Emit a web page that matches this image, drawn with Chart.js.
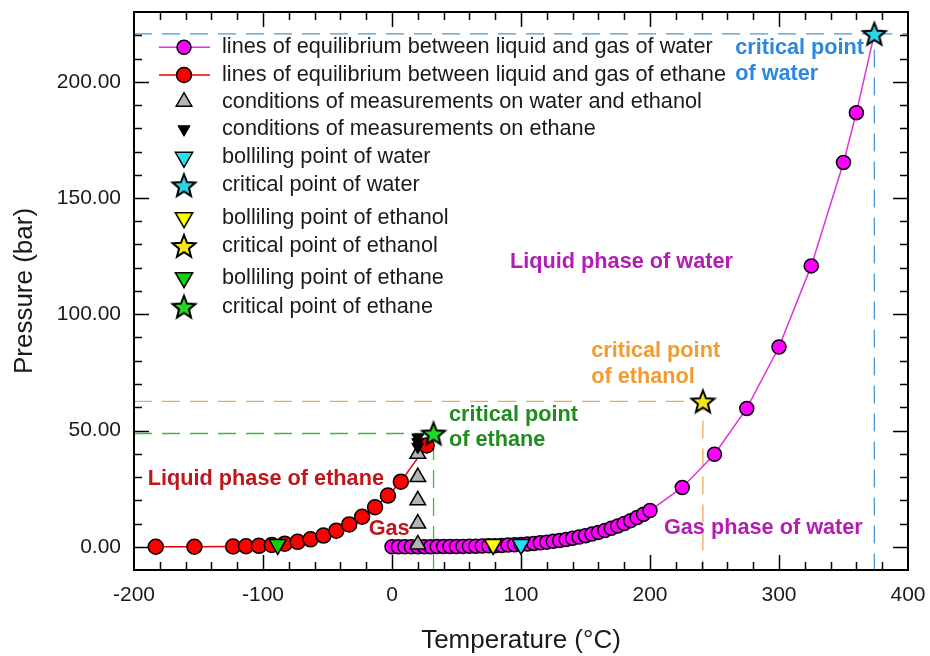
<!DOCTYPE html>
<html><head><meta charset="utf-8">
<script src="https://cdn.jsdelivr.net/npm/chart.js@4.4.1/dist/chart.umd.min.js"></script>
<style>html,body{margin:0;padding:0;background:#fff}canvas{display:block}</style>
</head><body>
<canvas id="c" width="930" height="656"></canvas>
<script>
// ---------- data ----------
const waterT = [0,5,10,15,20,25,30,35,40,45,50,55,60,65,70,75,80,85,90,95,100,105,110,115,120,125,130,135,140,145,150,155,160,165,170,175,180,185,190,195,200,225,250,275,300,325,350,360,373.9];
const waterP = [0.006,0.009,0.012,0.017,0.023,0.032,0.042,0.056,0.074,0.096,0.124,0.158,0.200,0.250,0.312,0.386,0.474,0.579,0.702,0.846,1.014,1.209,1.434,1.692,1.987,2.322,2.703,3.132,3.615,4.156,4.761,5.434,6.181,7.008,7.921,8.925,10.03,11.23,12.55,13.99,15.55,25.5,39.8,59.5,85.9,120.8,165.3,186.7,220.6];
const ethaneT = [-183.15,-153.15,-123.15,-113.15,-103.15,-93.15,-83.15,-73.15,-63.15,-53.15,-43.15,-33.15,-23.15,-13.15,-3.15,6.85,26.85];
const ethaneP = [0.00001,0.0035,0.097,0.21,0.41,0.77,1.31,2.1,3.2,4.8,6.9,9.6,12.9,17.0,22.0,28.0,43.6];
const measWaterEthanolT = [20,20,20,20,20];
const measWaterEthanolP = [1,10,20,30,40];
const measEthaneT = [20,20,20];
const measEthaneP = [43,45,47];
const boilWater = [100, 1.01];
const critWater = [373.9, 220.6];
const boilEthanol = [78.4, 1.01];
const critEthanol = [241, 62.5];
const boilEthane = [-88.6, 1.01];
const critEthane = [32.2, 48.7];
const xRange = [-200, 400];
const yRange = [-10, 230];
const xTickValues = [-200,-100,0,100,200,300,400];
const yTickValues = [0,50,100,150,200];
const legendLabels = [
  'lines of equilibrium between liquid and gas of water',
  'lines of equilibrium between liquid and gas of ethane',
  'conditions of measurements on water and ethanol',
  'conditions of measurements on ethane',
  'bolliling point of water',
  'critical point of water',
  'bolliling point of ethanol',
  'critical point of ethanol',
  'bolliling point of ethane',
  'critical point of ethane'
];

const FONT = "'Liberation Sans', Arial, sans-serif";
const pts = (xs, ys) => xs.map((x, i) => ({x: x, y: ys[i]}));

function makeStar(fill) {
  const R = 12, r = 5.2, s = 30;
  const c = document.createElement('canvas'); c.width = s; c.height = s;
  const g = c.getContext('2d');
  g.beginPath();
  for (let i = 0; i < 10; i++) {
    const a = -Math.PI / 2 + i * Math.PI / 5, rr = (i % 2) ? r : R;
    g.lineTo(s / 2 + rr * Math.cos(a), s / 2 + 1 + rr * Math.sin(a));
  }
  g.closePath();
  g.fillStyle = fill; g.fill();
  g.lineWidth = 2; g.strokeStyle = '#000'; g.lineJoin = 'miter'; g.stroke();
  return c;
}
const starCyan = makeStar('#2FD3E6');
const starYellow = makeStar('#F2E51C');
const starGreen = makeStar('#22D822');

const dash = [18, 10];
const waterRadius = waterT.map((t, i) => i === waterT.length - 1 ? 0 : 7);

const datasets = [
  {label: legendLabels[9], inLegend: 9, data: pts([critEthane[0]], [critEthane[1]]), pointStyle: starGreen, pointRadius: 11, showLine: false, order: 1},
  {label: legendLabels[7], inLegend: 7, data: pts([critEthanol[0]], [critEthanol[1]]), pointStyle: starYellow, pointRadius: 11, showLine: false, order: 1},
  {label: legendLabels[5], inLegend: 5, data: pts([critWater[0]], [critWater[1]]), pointStyle: starCyan, pointRadius: 11, showLine: false, order: 1},
  {label: legendLabels[8], inLegend: 8, data: pts([boilEthane[0]], [boilEthane[1]]), pointStyle: 'triangle', rotation: 180, pointRadius: 10, backgroundColor: '#10D010', borderColor: '#000', borderWidth: 1.5, showLine: false, order: 2},
  {label: legendLabels[6], inLegend: 6, data: pts([boilEthanol[0]], [boilEthanol[1]]), pointStyle: 'triangle', rotation: 180, pointRadius: 10, backgroundColor: '#FFFF00', borderColor: '#000', borderWidth: 1.5, showLine: false, order: 2},
  {label: legendLabels[4], inLegend: 4, data: pts([boilWater[0]], [boilWater[1]]), pointStyle: 'triangle', rotation: 180, pointRadius: 10, backgroundColor: '#22E2F2', borderColor: '#000', borderWidth: 1.5, showLine: false, order: 2},
  {label: legendLabels[3], inLegend: 3, data: pts(measEthaneT, measEthaneP), pointStyle: 'triangle', rotation: 180, pointRadius: 7, backgroundColor: '#000', borderColor: '#000', borderWidth: 1, showLine: false, order: 3},
  {label: legendLabels[2], inLegend: 2, data: pts(measWaterEthanolT, measWaterEthanolP), pointStyle: 'triangle', pointRadius: 9, backgroundColor: '#B4B4B4', borderColor: '#000', borderWidth: 1.5, showLine: false, order: 4},
  {label: legendLabels[1], inLegend: 1, data: pts(ethaneT, ethaneP), showLine: true, borderColor: '#E80000', borderWidth: 1.5, backgroundColor: '#FF0000', pointBorderColor: '#000', pointBorderWidth: 1.5, pointRadius: 7.5, pointStyle: 'circle', tension: 0, order: 5},
  {label: legendLabels[0], inLegend: 0, data: pts(waterT, waterP), showLine: true, borderColor: '#E030E0', borderWidth: 1.5, backgroundColor: '#FF00FF', pointBorderColor: '#000', pointBorderWidth: 1.5, pointRadius: waterRadius, pointStyle: 'circle', tension: 0, order: 6},
  {data: pts([xRange[0], critEthane[0], critEthane[0]], [critEthane[1], critEthane[1], yRange[0]]), showLine: true, borderColor: '#3DBA3D', borderWidth: 1.3, borderDash: dash, pointRadius: 0, order: 10},
  {data: pts([xRange[0], critEthanol[0], critEthanol[0]], [critEthanol[1], critEthanol[1], yRange[0]]), showLine: true, borderColor: '#EDAA55', borderWidth: 1.3, borderDash: dash, pointRadius: 0, order: 10},
  {data: pts([xRange[0], critWater[0], critWater[0]], [critWater[1], critWater[1], yRange[0]]), showLine: true, borderColor: '#4A9AD6', borderWidth: 1.3, borderDash: dash, pointRadius: 0, order: 10},
  {data: pts([critWater[0], xRange[1]], [critWater[1], critWater[1]]), showLine: true, borderColor: '#4A9AD6', borderWidth: 1.3, borderDash: dash, pointRadius: 0, order: 10}
];

const annotations = [
  {text: 'critical point', x: 266, y: 214.6, color: '#2B87DF'},
  {text: 'of water', x: 266, y: 203.4, color: '#2B87DF'},
  {text: 'Liquid phase of water', x: 91.5, y: 122.4, color: '#B31DB3'},
  {text: 'critical point', x: 154.4, y: 84.2, color: '#F39B30'},
  {text: 'of ethanol', x: 154.4, y: 73.0, color: '#F39B30'},
  {text: 'critical point', x: 44.2, y: 56.6, color: '#1F8C1F'},
  {text: 'of ethane', x: 44.2, y: 45.9, color: '#1F8C1F'},
  {text: 'Liquid phase of ethane', x: -189.3, y: 29.2, color: '#C0151B'},
  {text: 'Gas', x: -18.1, y: 7.7, color: '#C0151B'},
  {text: 'Gas phase of water', x: 210.8, y: 8.0, color: '#B31DB3'}
];

const legendRowsY = [47.3, 75, 101.7, 129.3, 157.3, 185.3, 217.7, 246, 277.7, 306.7];

function drawSym(ctx, ds, x, y) {
  const style = ds.pointStyle;
  ctx.save();
  if (style instanceof HTMLCanvasElement) {
    ctx.drawImage(style, x - style.width / 2, y - style.height / 2);
  } else {
    ctx.fillStyle = ds.backgroundColor;
    ctx.strokeStyle = ds.pointBorderColor || ds.borderColor || '#000';
    ctx.lineWidth = ds.pointBorderWidth || ds.borderWidth || 1;
    const r = Array.isArray(ds.pointRadius) ? ds.pointRadius[0] : ds.pointRadius;
    Chart.helpers.drawPoint(ctx, {pointStyle: style, rotation: ds.rotation || 0, radius: r, borderWidth: ctx.lineWidth}, x, y);
  }
  ctx.restore();
}

const framePlugin = {
  id: 'frame',
  afterDatasetsDraw(chart) {
    const {ctx, chartArea: a, scales: {x, y}} = chart;
    ctx.save();
    ctx.font = 'bold 21.7px ' + FONT;
    ctx.textAlign = 'left'; ctx.textBaseline = 'middle';
    annotations.forEach(t => {
      ctx.fillStyle = t.color;
      ctx.fillText(t.text, x.getPixelForValue(t.x), y.getPixelForValue(t.y));
    });
    ctx.strokeStyle = '#000'; ctx.lineWidth = 1.5;
    ctx.beginPath();
    for (let v = xRange[0] + 20; v < xRange[1]; v += 20) {
      const px = Math.round(x.getPixelForValue(v)) + 0.5;
      const len = (v % 100 === 0) ? 15 : 8;
      ctx.moveTo(px, a.bottom); ctx.lineTo(px, a.bottom - len);
      ctx.moveTo(px, a.top); ctx.lineTo(px, a.top + len);
    }
    for (let v = yRange[0] + 10; v < yRange[1]; v += 10) {
      const py = Math.round(y.getPixelForValue(v)) + 0.5;
      const len = (v % 50 === 0) ? 15 : 8;
      ctx.moveTo(a.left, py); ctx.lineTo(a.left + len, py);
      ctx.moveTo(a.right, py); ctx.lineTo(a.right - len, py);
    }
    ctx.stroke();
    ctx.lineWidth = 2;
    ctx.strokeRect(a.left, a.top, a.right - a.left, a.bottom - a.top);
    ctx.font = '21.7px ' + FONT;
    const dsl = chart.data.datasets.filter(d => d.inLegend !== undefined).sort((p, q) => p.inLegend - q.inLegend);
    dsl.forEach((ds, i) => {
      const ly = legendRowsY[i];
      if (ds.showLine) {
        ctx.save();
        ctx.strokeStyle = ds.borderColor; ctx.lineWidth = ds.borderWidth;
        ctx.beginPath(); ctx.moveTo(159, ly); ctx.lineTo(210, ly); ctx.stroke();
        ctx.restore();
      }
      drawSym(ctx, ds, 184, ly);
      ctx.fillStyle = '#1a1a1a';
      ctx.textAlign = 'left'; ctx.textBaseline = 'middle';
      ctx.fillText(ds.label, 222, ly);
    });
    ctx.restore();
  }
};

const zeroPad = s => { s.paddingLeft = 0; s.paddingRight = 0; s.paddingTop = 0; s.paddingBottom = 0; };

new Chart(document.getElementById('c'), {
  type: 'scatter',
  data: {datasets: datasets},
  options: {
    responsive: false, animation: false, devicePixelRatio: 1,
    layout: {padding: {left: 0, right: 22, top: 10, bottom: 0}},
    plugins: {legend: {display: false}, tooltip: {enabled: false}},
    scales: {
      x: {
        type: 'linear', min: xRange[0], max: xRange[1],
        grid: {display: false, drawTicks: false}, border: {display: false},
        afterBuildTicks: s => { s.ticks = xTickValues.map(v => ({value: v})); },
        afterFit: s => { s.height = 86; zeroPad(s); },
        ticks: {padding: 13, color: '#1a1a1a', font: {family: FONT, size: 21}, maxRotation: 0, autoSkip: false, callback: v => String(v)},
        title: {display: true, text: 'Temperature (°C)', color: '#1a1a1a', font: {family: FONT, size: 26}, padding: {top: 0, bottom: 0}}
      },
      y: {
        type: 'linear', min: yRange[0], max: yRange[1],
        grid: {display: false, drawTicks: false}, border: {display: false},
        afterBuildTicks: s => { s.ticks = yTickValues.map(v => ({value: v})); },
        afterFit: s => { s.width = 134; zeroPad(s); },
        ticks: {padding: 13, color: '#1a1a1a', font: {family: FONT, size: 21}, autoSkip: false, callback: v => Number(v).toFixed(2)},
        title: {display: true, text: 'Pressure (bar)', color: '#1a1a1a', font: {family: FONT, size: 26}, padding: {top: 9, bottom: 0}}
      }
    }
  },
  plugins: [framePlugin]
});
</script>
</body></html>
